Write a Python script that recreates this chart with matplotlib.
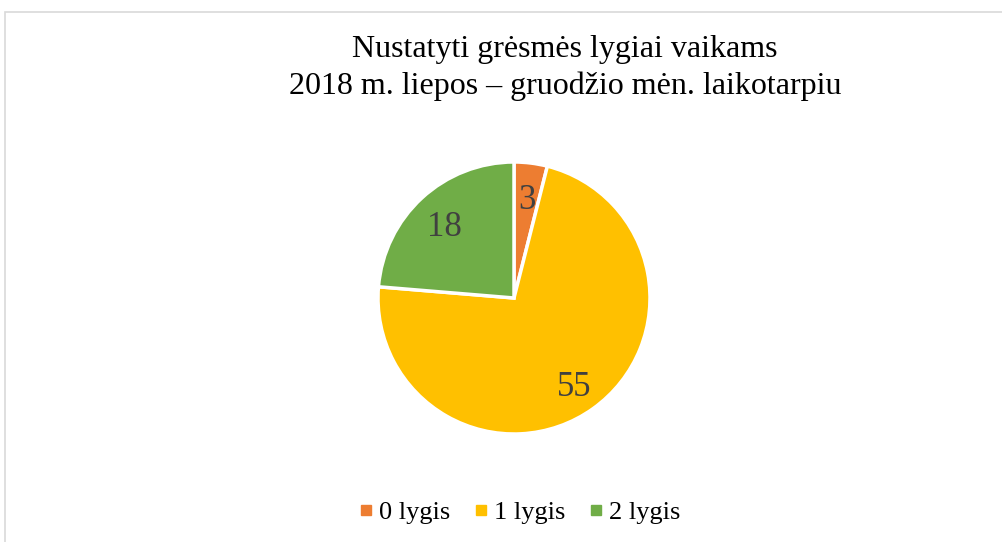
import matplotlib
matplotlib.use("Agg")
import matplotlib.pyplot as plt
import matplotlib.patches as patches
from matplotlib.lines import Line2D

# Duomenys
labels = ["0 lygis", "1 lygis", "2 lygis"]
values = [3, 55, 18]
colors = ["#ED7D31", "#FFC000", "#70AD47"]
title = "Nustatyti grėsmės lygiai vaikams\n2018 m. liepos – gruodžio mėn. laikotarpiu"

plt.rcParams['font.family'] = ['Liberation Serif', 'DejaVu Serif']

W, H = 1003, 542
fig = plt.figure(figsize=(W / 100, H / 100), dpi=100)

# Rėmelis aplink diagramą
frame = patches.Rectangle((5 / W, -0.05), 1.1, 1 - 12 / H + 0.05,
                          transform=fig.transFigure, fill=False,
                          edgecolor="#D9D9D9", linewidth=1.2)
fig.patches.append(frame)

# Skritulinė diagrama
cx, cy, r = 514, 298, 136
ax = fig.add_axes([(cx - r) / W, (H - cy - r) / H, 2 * r / W, 2 * r / H])
wedges, texts, autotexts = ax.pie(
    values, colors=colors, startangle=90, counterclock=False,
    radius=1.0, pctdistance=0.76,
    autopct=lambda p: f"{round(p * sum(values) / 100):d}",
    wedgeprops=dict(edgecolor="white", linewidth=2.5),
)
for t in autotexts:
    t.set_fontsize(25)
    t.set_color("#404040")
    x, y = t.get_position()
    t.set_position((x, y - 0.04))
ax.set_xlim(-1, 1)
ax.set_ylim(-1, 1)
ax.set_aspect("equal")
ax.axis("off")

# Pavadinimas
fig.text(565 / W, 1 - 68 / H, title, ha="center", va="center",
         fontsize=23, linespacing=1.3, color="black")

# Legenda
handles = [Line2D([0], [0], marker="s", linestyle="none", markersize=6.5,
                  markerfacecolor=c, markeredgecolor=c) for c in colors]
fig.legend(handles, labels, loc="center", bbox_to_anchor=(518 / W, 1 - 512 / H),
           ncol=3, frameon=False, fontsize=19, handletextpad=0.1,
           columnspacing=0.75, handlelength=0.8)

plt.savefig("out.png", dpi=100)
plt.close()
